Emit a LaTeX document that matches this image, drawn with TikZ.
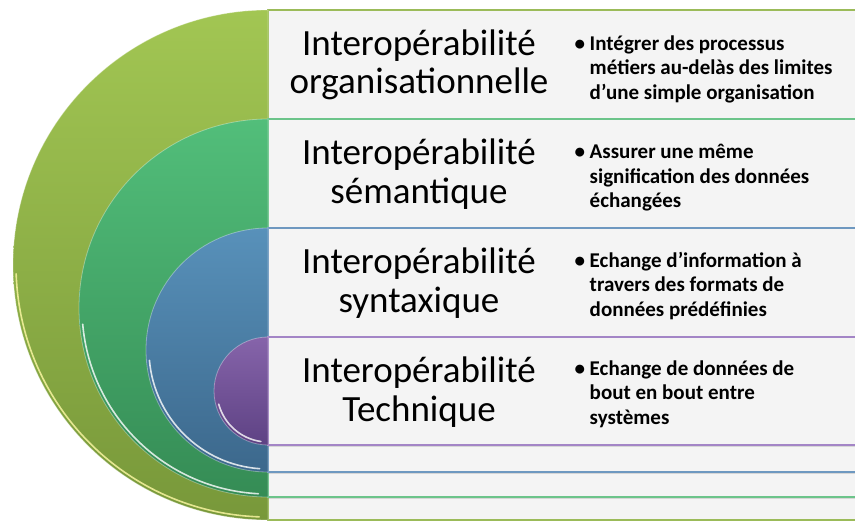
\documentclass[tikz,border=0pt]{standalone}
\usepackage{fontspec}
\setmainfont{Carlito}
\usetikzlibrary{shadows}

\definecolor{olivetop}{HTML}{A2C653}
\definecolor{olivebot}{HTML}{78983A}
\definecolor{oliveline}{HTML}{9BBB59}
\definecolor{greentop}{HTML}{52BE7A}
\definecolor{greenbot}{HTML}{358C55}
\definecolor{greenline}{HTML}{6CC48A}
\definecolor{bluetop}{HTML}{5891BA}
\definecolor{bluebot}{HTML}{3C688C}
\definecolor{blueline}{HTML}{6E98C0}
\definecolor{purpletop}{HTML}{8664AA}
\definecolor{purplebot}{HTML}{5E4284}
\definecolor{purpleline}{HTML}{A385C6}
\definecolor{panel}{HTML}{F4F4F4}

\tikzset{
  panelbox/.style={fill=panel, line width=1.3pt,
    drop shadow={opacity=0.25, shadow xshift=0pt, shadow yshift=-2pt}},
  ring/.style={draw=white, draw opacity=0.35, line width=0.8pt},
  rimlight/.style={draw=white, opacity=0.8, line width=1.6pt, line cap=round},
  title/.style={align=center, font=\fontsize{37}{38.5}\selectfont},
  desc/.style={anchor=west, align=left, font=\bfseries\fontsize{21}{24.5}\selectfont}
}

\newcommand{\pad}{\hphantom{\textbullet\ }}

\begin{document}
\begin{tikzpicture}[x=1pt,y=1pt]
\useasboundingbox (0,0) rectangle (855,-521);

% organisationnelle
\path[panelbox, draw=oliveline] (268,-10) rectangle (870,-520);
\path[ring, top color=olivetop, bottom color=olivebot]
  (268,-10) arc[start angle=90, end angle=270, radius=255] -- cycle;
\draw[rimlight, draw=yellow!35] (268,-265) ++(182:252) arc[start angle=182, end angle=268, radius=252];

% semantique
\path[panelbox, draw=greenline] (268,-119) rectangle (870,-497);
\path[ring, top color=greentop, bottom color=greenbot]
  (268,-119) arc[start angle=90, end angle=270, radius=189] -- cycle;
\draw[rimlight] (268,-308) ++(185:186) arc[start angle=185, end angle=267, radius=186];

% syntaxique
\path[panelbox, draw=blueline] (268,-228) rectangle (870,-472);
\path[ring, top color=bluetop, bottom color=bluebot]
  (268,-228) arc[start angle=90, end angle=270, radius=122] -- cycle;
\draw[rimlight] (268,-350) ++(185:119) arc[start angle=185, end angle=266, radius=119];

% technique
\path[panelbox, draw=purpleline] (268,-337) rectangle (870,-445);
\path[ring, top color=purpletop, bottom color=purplebot]
  (268,-337) arc[start angle=90, end angle=270, radius=54] -- cycle;
\draw[rimlight] (268,-391) ++(195:51) arc[start angle=195, end angle=262, radius=51];

% titles
\node[title] (orga) at (419,-65) {Interopérabilité\\organisationnelle};
\node[title] (sema) at (419,-174) {Interopérabilité\\sémantique};
\node[title] (synt) at (419,-283) {Interopérabilité\\syntaxique};
\node[title] (tech) at (419,-392) {Interopérabilité\\Technique};

% descriptions
\node[desc] (orgadesc) at (571,-69)
  {\textbullet\ Intégrer des processus\\\pad métiers au-delàs des limites\\\pad d’une simple organisation};
\node[desc] (semadesc) at (571,-178)
  {\textbullet\ Assurer une même\\\pad signification des données\\\pad échangées};
\node[desc] (syntdesc) at (571,-286)
  {\textbullet\ Echange d’information à\\\pad travers des formats de\\\pad données prédéfinies};
\node[desc] (techdesc) at (571,-394)
  {\textbullet\ Echange de données de\\\pad bout en bout entre\\\pad systèmes};
\end{tikzpicture}
\end{document}
